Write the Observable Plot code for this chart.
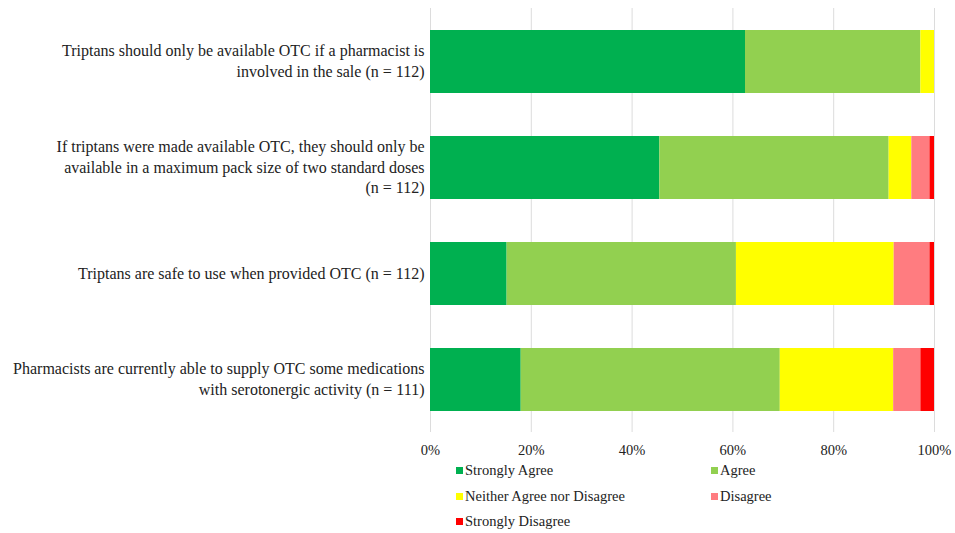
<!DOCTYPE html>
<html>
<head>
<meta charset="utf-8">
<script src="https://cdn.jsdelivr.net/npm/d3@7"></script>
<script src="https://cdn.jsdelivr.net/npm/@observablehq/plot@0.6"></script>
<style>
  body { margin: 0; background: #fff; font-family: "Liberation Serif", "DejaVu Serif", serif; }
  #chart svg { display: block; }
  #chart svg, #chart svg text { font-family: "Liberation Serif", "DejaVu Serif", serif !important; }
  .legend { display: grid; grid-template-columns: 255px auto; margin-left: 456px; margin-top: -4px; font-size: 14.5px; color: #222; }
  .legend div { height: 25.5px; line-height: 25.5px; white-space: nowrap; }
  .legend span { display: inline-block; width: 7px; height: 7px; margin-right: 2px; vertical-align: 1px; }
</style>
</head>
<body>
<div id="chart"></div>
<div class="legend" id="legend"></div>
<script>
const statements = [
  "Triptans should only be available OTC if a pharmacist is\ninvolved in the sale (n = 112)",
  "If triptans were made available OTC, they should only be\navailable in a maximum pack size of two standard doses\n(n = 112)",
  "Triptans are safe to use when provided OTC (n = 112)",
  "Pharmacists are currently able to supply OTC some medications\nwith serotonergic activity (n = 111)"
];
const responses = ["Strongly Agree", "Agree", "Neither Agree nor Disagree", "Disagree", "Strongly Disagree"];
const colors = ["#00B050", "#92D050", "#FFFF00", "#FF7C80", "#FF0000"];
const stronglyAgree = [62.5, 45.5, 15.2, 18.0];
const agree = [34.8, 45.5, 45.5, 51.4];
const neither = [2.7, 4.5, 31.3, 22.5];
const disagree = [0.0, 3.6, 7.1, 5.4];
const stronglyDisagree = [0.0, 0.9, 0.9, 2.7];
const xTicks = [0, 20, 40, 60, 80, 100];

const series = [stronglyAgree, agree, neither, disagree, stronglyDisagree];
const rows = [];
statements.forEach((s, i) => {
  responses.forEach((r, j) => {
    rows.push({statement: s, response: r, value: series[j][i]});
  });
});

const plot = Plot.plot({
  width: 955,
  height: 462,
  marginLeft: 430,
  marginRight: 21,
  marginTop: 8,
  marginBottom: 30,
  style: {fontSize: "14.5px", color: "#222"},
  x: {domain: [0, 100], ticks: xTicks, tickFormat: d => d + "%", label: null},
  y: {domain: statements, paddingInner: 0.41, paddingOuter: 0.205, label: null},
  color: {domain: responses, range: colors},
  marks: [
    Plot.ruleX(xTicks, {stroke: "#dcdcdc", strokeWidth: 1}),
    Plot.barX(rows, Plot.stackX({x: "value", y: "statement", fill: "response", order: responses})),
    Plot.axisX({ticks: xTicks, tickFormat: d => d + "%", tickSize: 0, tickPadding: 12, label: null, fontSize: 14.5}),
    Plot.axisY({tickSize: 0, tickPadding: 6, label: null, fontSize: 16, lineHeight: 1.3, dy: -2})
  ]
});
document.getElementById("chart").appendChild(plot);

const legend = document.getElementById("legend");
responses.forEach((r, i) => {
  const d = document.createElement("div");
  const sw = document.createElement("span");
  sw.style.background = colors[i];
  d.appendChild(sw);
  d.appendChild(document.createTextNode(r));
  legend.appendChild(d);
});
</script>
</body>
</html>
